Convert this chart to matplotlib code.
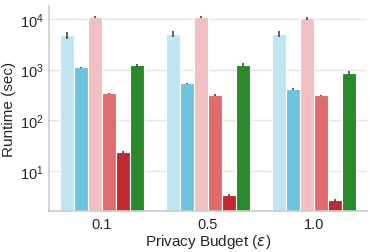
import matplotlib
matplotlib.use("Agg")
import matplotlib.pyplot as plt
import seaborn as sns
import numpy as np

budgets = ["0.1", "0.5", "1.0"]
methods = ["m1", "m2", "m3", "m4", "m5", "m6"]
colors = ["#bfe5f3", "#6bc3e0", "#f2c0c2", "#e16c6c", "#c2282d", "#2a8a2a"]

runtime = [
    [4800, 1100, 11000, 336, 23, 1220],   # eps 0.1
    [5100, 530, 11100, 316, 3.3, 1240],   # eps 0.5
    [5100, 420, 10300, 310, 2.6, 870],    # eps 1.0
]
err = [
    [800, 40, 600, 10, 1.0, 90],
    [700, 20, 500, 10, 0.1, 90],
    [700, 20, 800, 10, 0.15, 70],
]

sns.set_style("whitegrid")
plt.rcParams["font.family"] = ["Liberation Sans", "DejaVu Sans"]
plt.rcParams["mathtext.fontset"] = "dejavusans"

fig = plt.figure(figsize=(3.74, 2.53), dpi=100)
ax = fig.add_axes([49 / 374, 1 - 212 / 253, 318 / 374, 205 / 253])

n = len(methods)
width = 0.8 / n
x = np.arange(len(budgets))
for j in range(n):
    vals = [runtime[i][j] for i in range(len(budgets))]
    errs = [err[i][j] for i in range(len(budgets))]
    pos = x - 0.4 + width * (j + 0.5)
    ax.bar(pos, vals, width=width, color=colors[j], edgecolor="white", linewidth=0.8, zorder=2)
    ax.errorbar(pos, vals, yerr=errs, fmt="none", ecolor="#444444", elinewidth=1.2, capsize=0, zorder=3)

ax.set_yscale("log")
ax.set_ylim(1.6, 18000)
ax.set_xlim(-0.5, 2.5)
ax.set_xticks(x)
ax.set_xticklabels(budgets)
ax.grid(axis="x", visible=False)
ax.grid(axis="y", color="#e5e5e5", linewidth=1)
ax.set_axisbelow(True)
ax.minorticks_off()
ax.tick_params(axis="both", labelsize=10.5, length=0, pad=4)
ax.set_ylabel("Runtime (sec)", fontsize=11, labelpad=3)
ax.set_xlabel(r"Privacy Budget ($\varepsilon$)", fontsize=11, labelpad=1)
for s in ["top", "right"]:
    ax.spines[s].set_visible(False)
for s in ["left", "bottom"]:
    ax.spines[s].set_color("#cccccc")
    ax.spines[s].set_linewidth(1.2)

fig.savefig("out.png", dpi=100)
